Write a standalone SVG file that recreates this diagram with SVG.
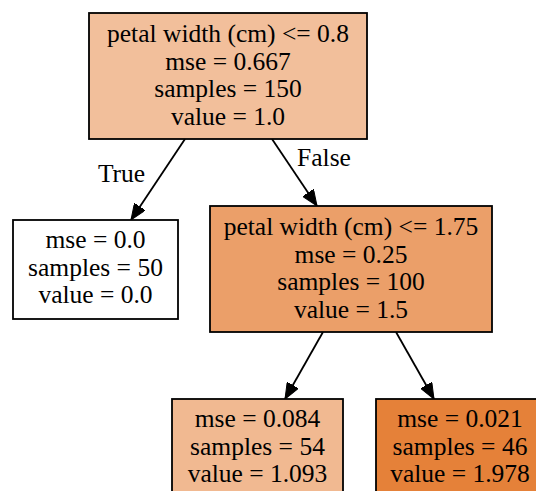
<svg xmlns="http://www.w3.org/2000/svg" width="536" height="491" viewBox="0 0 536 491">
<style>
.box{stroke:#000;stroke-width:1.8}
text{font-family:"Liberation Serif","Times New Roman",serif;font-size:25.5px;fill:#000}
.n text{text-anchor:middle}
.edge{stroke:#000;stroke-width:1.8;fill:none}
</style>
<defs>
<marker id="arr" viewBox="0 0 16 13" refX="16" refY="6.5" markerWidth="16" markerHeight="13" markerUnits="userSpaceOnUse" orient="auto">
<path d="M0,0 L16,6.5 L0,13 Z" fill="#000" stroke="#000" stroke-width="1"/>
</marker>
</defs>
<rect width="536" height="491" fill="#fff"/>
<g id="connectors">
<line class="edge" x1="185" y1="139" x2="131" y2="220" marker-end="url(#arr)"/>
<line class="edge" x1="272" y1="139" x2="317" y2="206" marker-end="url(#arr)"/>
<line class="edge" x1="323" y1="332" x2="285" y2="399" marker-end="url(#arr)"/>
<line class="edge" x1="396" y1="332" x2="434" y2="399" marker-end="url(#arr)"/>
<text x="121.5" y="182" text-anchor="middle">True</text>
<text x="324" y="166" text-anchor="middle">False</text>
</g>
<g id="node0" class="n">
<rect class="box" x="89" y="13" width="278" height="126" fill="#f2bf9b"/>
<text x="228" y="42">petal width (cm) &lt;= 0.8</text>
<text x="228" y="69.5">mse = 0.667</text>
<text x="228" y="97">samples = 150</text>
<text x="228" y="124.5">value = 1.0</text>
</g>
<g id="node1" class="n">
<rect class="box" x="13" y="220" width="165" height="99" fill="#ffffff"/>
<text x="95.5" y="248">mse = 0.0</text>
<text x="95.5" y="275.5">samples = 50</text>
<text x="95.5" y="303">value = 0.0</text>
</g>
<g id="node2" class="n">
<rect class="box" x="210" y="206" width="282" height="126" fill="#eb9f69"/>
<text x="351" y="235">petal width (cm) &lt;= 1.75</text>
<text x="351" y="262.5">mse = 0.25</text>
<text x="351" y="290">samples = 100</text>
<text x="351" y="317.5">value = 1.5</text>
</g>
<g id="node3" class="n">
<rect class="box" x="172" y="399" width="171" height="99" fill="#f1b991"/>
<text x="257.5" y="427">mse = 0.084</text>
<text x="257.5" y="454.5">samples = 54</text>
<text x="257.5" y="482">value = 1.093</text>
</g>
<g id="node4" class="n">
<rect class="box" x="376" y="399" width="170" height="99" fill="#e58139"/>
<text x="460" y="427">mse = 0.021</text>
<text x="460" y="454.5">samples = 46</text>
<text x="460" y="482">value = 1.978</text>
</g>
</svg>
